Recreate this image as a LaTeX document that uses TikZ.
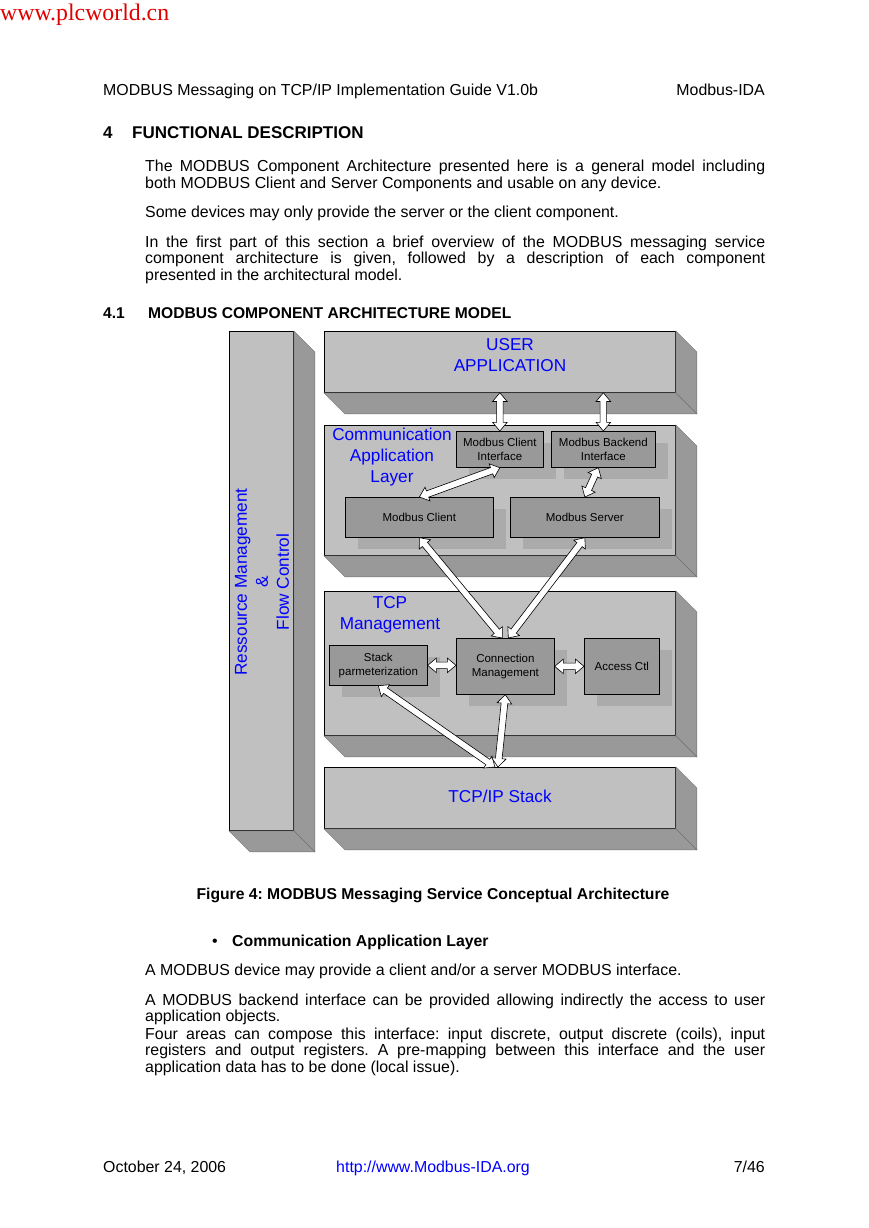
\documentclass[tikz,border=0pt]{standalone}
\usepackage{fontspec}
\setmainfont{Liberation Sans}
\newfontfamily\wmfont{Liberation Serif}
\usetikzlibrary{calc,shapes.arrows,shadows}
\definecolor{facegray}{HTML}{C0C0C0}
\definecolor{sidegray}{HTML}{999999}
\definecolor{boxgray}{HTML}{999999}
\definecolor{shadegray}{HTML}{ABABAB}
\definecolor{labelblue}{HTML}{0000FF}
\definecolor{wmred}{HTML}{E00000}
\newcommand\fs[2]{\fontsize{#1}{#2}\selectfont}
\newcommand\slabdepth{21}
% side and bottom faces of a slab
\newcommand\slabsides[1]{%
  \filldraw[sideface] (#1.north east) -- ++(\slabdepth,\slabdepth) -- ($(#1.south east)+(\slabdepth,\slabdepth)$) -- (#1.south east) -- cycle;
  \filldraw[sideface] (#1.south west) -- (#1.south east) -- ++(\slabdepth,\slabdepth) -- ($(#1.south west)+(\slabdepth,\slabdepth)$) -- cycle;}
% white double arrow between two points
\newcommand\duplex[2]{%
  \path let \p1=($(#2)-(#1)$), \n1={atan2(\y1,\x1)}, \n2={veclen(\x1,\y1)} in
    node[flowarrow, rotate=\n1, minimum height=\n2] at ($(#1)!0.5!(#2)$) {};}
\tikzset{
  slab/.style={draw, fill=facegray, anchor=north west, inner sep=0, line width=0.8},
  sideface/.style={fill=sidegray, draw=black!55, line width=0.4},
  inbox/.style={draw, fill=boxgray, anchor=north west, inner sep=0, align=center, line width=0.7,
    font=\fs{11.5}{13.5}, general shadow={fill=shadegray, shadow xshift=13pt, shadow yshift=-12pt}},
  layerlabel/.style={text=labelblue, align=center, font=\fs{17.2}{21}, inner sep=0},
  flowarrow/.style={double arrow, draw, fill=white, line width=0.6, inner xsep=0, inner ysep=3,
    double arrow head extend=4, double arrow tip angle=80},
  plain/.style={anchor=base west, inner sep=0, font=\fs{15.9}{16.8}},
  bodytext/.style={plain, text width=620, align=justify},
}
\begin{document}
\frenchspacing
\begin{tikzpicture}[x=1pt,y=-1pt]
\useasboundingbox (0,0) rectangle (869,1228);
\fill[white] (0,0) rectangle (869,1228);
% page text
\node[anchor=base west, inner sep=0, font=\wmfont\fs{23.8}{25}, text=wmred] (wm) at (0,21) {www.plcworld.cn};
\node[plain] (head) at (103,96) {MODBUS Messaging on TCP/IP Implementation Guide V1.0b};
\node[plain, anchor=base east] (headr) at (765,96) {Modbus-IDA};
\node[plain, font=\bfseries\fs{17}{20}] (secnum) at (103,139) {4};
\node[plain, font=\bfseries\fs{17}{20}] (sec) at (132,139) {FUNCTIONAL DESCRIPTION};
\node[bodytext] (p1) at (145,171.5) {The MODBUS Component Architecture presented here is a general model including\linebreak both MODBUS Client and Server Components and usable on any device.};
\node[bodytext] (p2) at (145,217) {Some devices may only provide the server or the client component.};
\node[bodytext] (p3) at (145,247) {In the first part of this section a brief overview of the MODBUS messaging service\linebreak component architecture is given, followed by a description of each component\linebreak presented in the architectural model.};
\node[plain, font=\bfseries\fs{15.6}{18}] (subnum) at (103,318) {4.1};
\node[plain, font=\bfseries\fs{15.6}{18}] (sub) at (148,318) {MODBUS COMPONENT ARCHITECTURE MODEL};
% slabs
\node[slab, minimum width=64, minimum height=499] (rm) at (229,331) {};
\node[slab, minimum width=351, minimum height=61] (ua) at (324,331) {};
\node[slab, minimum width=351, minimum height=130] (cal) at (324,425) {};
\node[slab, minimum width=351, minimum height=144] (tcpm) at (324,591) {};
\node[slab, minimum width=351, minimum height=61] (stk) at (324,767) {};
\slabsides{rm}
\slabsides{ua}
\slabsides{cal}
\slabsides{tcpm}
\slabsides{stk}
\node[layerlabel, rotate=90] (rmlabel) at (262,582) {Ressource Management\\\&\\Flow Control};
\node[layerlabel] (ualabel) at (510,355) {USER\\APPLICATION};
\node[layerlabel] (callabel) at (392,457) {Communication\\Application\\Layer};
\node[layerlabel] (tcpmlabel) at (390,614.5) {TCP\\Management};
\node[layerlabel] (stklabel) at (500,796) {TCP/IP Stack};
% components
\node[inbox, minimum width=87, minimum height=36] (mci) at (456,431) {Modbus Client\\Interface};
\node[inbox, minimum width=104, minimum height=36] (mbi) at (551,431) {Modbus Backend\\Interface};
\node[inbox, minimum width=148, minimum height=40] (mc) at (345,497) {Modbus Client};
\node[inbox, minimum width=149, minimum height=40] (ms) at (510,497) {Modbus Server};
\node[inbox, minimum width=98, minimum height=40] (sp) at (329,645) {Stack\\parmeterization};
\node[inbox, minimum width=98, minimum height=56] (cm) at (456,638) {Connection\\Management};
\node[inbox, minimum width=75, minimum height=56] (ac) at (584,638) {Access Ctl};
% arrows
\coordinate (uaout1) at (mci.north |- ua.south);
\coordinate (uaout2) at (mbi.north |- ua.south);
\coordinate (mbiout) at ($(mbi.south)+(-5,0)$);
\coordinate (cmin1) at ($(cm.north)+(-3,0)$);
\coordinate (cmin2) at ($(cm.north)+(3,0)$);
\coordinate (cmleft) at (sp.east -| cm.west);
\coordinate (acleft) at (cm.east -| ac.west);
\coordinate (stkin1) at ($(stk.north)+(-5,0)$);
\coordinate (stkin2) at ($(stk.north)+(-2,0)$);
\duplex{uaout1}{mci.north}
\duplex{uaout2}{mbi.north}
\duplex{mci.south}{mc.north}
\duplex{mbiout}{ms.north}
\duplex{mc.south}{cmin1}
\duplex{ms.south}{cmin2}
\duplex{sp.east}{cmleft}
\duplex{cm.east}{acleft}
\duplex{sp.south}{stkin1}
\duplex{cm.south}{stkin2}
% caption and following text
\node[plain, anchor=base, font=\bfseries\fs{15.7}{16.8}] (cap) at (433,899) {Figure 4: MODBUS Messaging Service Conceptual Architecture};
\node[plain] (bul) at (212,946) {\textbullet};
\node[plain, font=\bfseries\fs{15.8}{16.8}] (bultext) at (232,946) {Communication Application Layer};
\node[bodytext] (p4) at (145,975) {A MODBUS device may provide a client and/or a server MODBUS interface.};
\node[bodytext] (p5) at (145,1005) {A MODBUS backend interface can be provided allowing indirectly the access to user\linebreak application objects.};
\node[bodytext] (p6) at (145,1039) {Four areas can compose this interface: input discrete, output discrete (coils), input\linebreak registers and output registers. A pre-mapping between this interface and the user\linebreak application data has to be done (local issue).};
% footer
\node[plain] (date) at (103,1172) {October 24, 2006};
\node[plain, anchor=base, text=labelblue] (url) at (433,1172) {http://www.Modbus-IDA.org};
\node[plain, anchor=base east] (page) at (765,1172) {7/46};
\end{tikzpicture}
\end{document}
